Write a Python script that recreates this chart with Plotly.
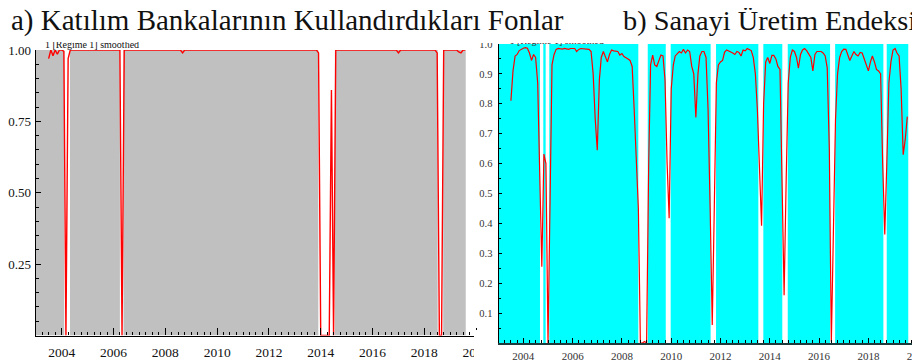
import plotly.graph_objects as go
import pandas as pd

# The page body has an 8px margin, so the figure is 8px smaller than the 920x361 window
OFF = 8
W, H = 920 - OFF, 361 - OFF


def px(wx):
    """window x pixel -> paper fraction"""
    return (wx - OFF) / W


def py(wy):
    """window y pixel (from top) -> paper fraction"""
    return 1 - (wy - OFF) / H


# monthly observations, Jul 2003 .. Aug 2019
months = pd.date_range("2003-07-01", periods=194, freq="MS")

# a) Katılım Bankalarının Kullandırdıkları Fonlar : P[Regime 1] smoothed
fonlar_prob = (
    [0.97, 1.0, 0.98, 1.0, 0.985, 1.0]                                          # 2003 Jul-Dec
    + [1.0, 0.995, 0.0, 0.97, 1.0, 1.0, 1.0, 1.0, 1.0, 1.0, 1.0, 1.0]           # 2004
    + [1.0, 1.0, 1.0, 1.0, 1.0, 1.0, 1.0, 1.0, 1.0, 1.0, 1.0, 1.0]              # 2005
    + [1.0, 1.0, 1.0, 1.0, 0.0, 1.0, 1.0, 1.0, 1.0, 1.0, 1.0, 1.0]              # 2006
    + [1.0, 1.0, 1.0, 1.0, 1.0, 1.0, 1.0, 1.0, 1.0, 1.0, 1.0, 1.0]              # 2007
    + [1.0, 1.0, 1.0, 1.0, 1.0, 1.0, 1.0, 1.0, 0.99, 1.0, 1.0, 1.0]             # 2008
    + [1.0, 1.0, 1.0, 1.0, 1.0, 1.0, 1.0, 1.0, 1.0, 1.0, 1.0, 1.0]              # 2009
    + [1.0, 1.0, 1.0, 1.0, 1.0, 1.0, 1.0, 1.0, 1.0, 1.0, 1.0, 1.0]              # 2010
    + [1.0, 1.0, 1.0, 1.0, 1.0, 1.0, 1.0, 1.0, 1.0, 1.0, 1.0, 1.0]              # 2011
    + [1.0, 1.0, 1.0, 1.0, 1.0, 1.0, 1.0, 1.0, 1.0, 1.0, 1.0, 1.0]              # 2012
    + [1.0, 1.0, 1.0, 1.0, 1.0, 1.0, 1.0, 1.0, 1.0, 1.0, 1.0, 0.99]             # 2013
    + [0.0, 0.0, 0.0, 0.0, 0.0, 0.86, 0.0, 1.0, 1.0, 1.0, 1.0, 1.0]             # 2014
    + [1.0, 1.0, 1.0, 1.0, 1.0, 1.0, 1.0, 1.0, 1.0, 1.0, 1.0, 1.0]              # 2015
    + [1.0, 1.0, 1.0, 1.0, 1.0, 1.0, 1.0, 1.0, 1.0, 1.0, 1.0, 1.0]              # 2016
    + [0.99, 1.0, 1.0, 1.0, 1.0, 1.0, 1.0, 1.0, 1.0, 1.0, 1.0, 1.0]             # 2017
    + [1.0, 1.0, 1.0, 1.0, 1.0, 1.0, 0.99, 0.0, 0.0, 1.0, 1.0, 1.0]             # 2018
    + [1.0, 1.0, 1.0, 1.0, 0.993, 0.99, 1.0, 1.0]                               # 2019 Jan-Aug
)

# b) Sanayi Üretim Endeksi : P[Regime 1] smoothed
sanayi_prob = (
    [0.81, 0.91, 0.96, 0.965, 0.978, 0.983]                                                  # 2003 Jul-Dec
    + [0.986, 0.988, 0.986, 0.97, 0.945, 0.965, 0.955, 0.87, 0.55, 0.255, 0.632, 0.60]       # 2004
    + [0.0, 0.5, 0.93, 0.965, 0.982, 0.985, 0.984, 0.983, 0.985, 0.984, 0.982, 0.985]        # 2005
    + [0.986, 0.985, 0.975, 0.982, 0.985, 0.984, 0.983, 0.982, 0.982, 0.975, 0.9, 0.75]      # 2006
    + [0.645, 0.88, 0.955, 0.975, 0.96, 0.94, 0.965, 0.98, 0.977, 0.975, 0.975, 0.963]       # 2007
    + [0.968, 0.958, 0.955, 0.95, 0.945, 0.925, 0.78, 0.63, 0.45, 0.0, 0.0, 0.005]           # 2008
    + [0.0, 0.6, 0.93, 0.963, 0.93, 0.925, 0.945, 0.963, 0.96, 0.88, 0.6, 0.417]             # 2009
    + [0.85, 0.93, 0.96, 0.968, 0.975, 0.97, 0.982, 0.97, 0.98, 0.975, 0.925, 0.9]           # 2010
    + [0.754, 0.9, 0.96, 0.975, 0.975, 0.955, 0.78, 0.45, 0.06, 0.45, 0.87, 0.93]            # 2011
    + [0.94, 0.945, 0.972, 0.98, 0.977, 0.972, 0.97, 0.965, 0.975, 0.972, 0.96, 0.98]        # 2012
    + [0.977, 0.985, 0.982, 0.978, 0.955, 0.9, 0.78, 0.55, 0.392, 0.8, 0.94, 0.955]          # 2013
    + [0.935, 0.962, 0.962, 0.95, 0.925, 0.915, 0.5, 0.16, 0.55, 0.87, 0.955, 0.98]          # 2014
    + [0.975, 0.955, 0.919, 0.965, 0.98, 0.985, 0.978, 0.965, 0.955, 0.91, 0.965, 0.975]     # 2015
    + [0.975, 0.975, 0.97, 0.96, 0.92, 0.65, 0.004, 0.35, 0.75, 0.9, 0.955, 0.975]           # 2016
    + [0.983, 0.982, 0.965, 0.945, 0.96, 0.975, 0.965, 0.96, 0.972, 0.97, 0.95, 0.93]        # 2017
    + [0.91, 0.94, 0.96, 0.94, 0.915, 0.91, 0.9, 0.6, 0.363, 0.6, 0.87, 0.94]                # 2018
    + [0.98, 0.985, 0.97, 0.96, 0.85, 0.63, 0.68, 0.757]                                     # 2019 Jan-Aug
)

# periods classified as regime 1 (shaded)
fonlar_regime1 = [
    ("2003-01-01", "2004-02-06"), ("2004-04-27", "2006-04-01"), ("2006-05-22", "2013-11-28"),
    ("2014-07-19", "2018-07-08"), ("2018-09-24", "2019-08-08"),
]
sanayi_regime1 = [
    ("2003-01-01", "2004-09-04"), ("2004-10-23", "2004-11-27"), ("2005-01-20", "2008-08-31"),
    ("2009-01-18", "2009-10-12"), ("2009-12-24", "2011-08-08"), ("2011-10-27", "2013-07-15"),
    ("2013-09-27", "2014-07-05"), ("2014-09-24", "2016-06-12"), ("2016-08-26", "2018-08-11"),
    ("2018-09-30", "2019-08-15"),
]

title_a = "a) Katılım Bankalarının Kullandırdıkları Fonlar"
title_b = "b) Sanayi Üretim Endeksi"
legend_label = "1 [Regime 1] smoothed"

SERIF = "Liberation Serif, Times New Roman, serif"

fig = go.Figure()

for x0, x1 in fonlar_regime1:
    fig.add_shape(type="rect", xref="x", yref="y", x0=x0, x1=x1, y0=0, y1=1,
                  fillcolor="#c0c0c0", line_width=0, layer="below")
for x0, x1 in sanayi_regime1:
    fig.add_shape(type="rect", xref="x2", yref="y2", x0=x0, x1=x1, y0=0, y1=1,
                  fillcolor="#00ffff", line_width=0, layer="below")

fig.add_trace(go.Scatter(x=months, y=fonlar_prob, mode="lines", xaxis="x", yaxis="y",
                         line=dict(color="#ff0000", width=1.4), cliponaxis=False,
                         showlegend=False, hoverinfo="skip"))
fig.add_trace(go.Scatter(x=months, y=sanayi_prob, mode="lines", xaxis="x2", yaxis="y2",
                         line=dict(color="#ff0000", width=1.2), cliponaxis=False,
                         showlegend=False, hoverinfo="skip"))

# legend labels, sitting on top of the frame (their tops hidden under the title band)
fig.add_trace(go.Scatter(x=["2003-05-10"], y=[0.9999], mode="text", text=[legend_label],
                         textposition="top right", xaxis="x", yaxis="y",
                         textfont=dict(family=SERIF, size=10, color="#111"),
                         cliponaxis=False, showlegend=False, hoverinfo="skip"))
fig.add_trace(go.Scatter(x=["2003-06-10"], y=[0.993], mode="text", text=[legend_label],
                         textposition="top right", xaxis="x2", yaxis="y2",
                         textfont=dict(family=SERIF, size=10, color="#333"),
                         cliponaxis=False, showlegend=False, hoverinfo="skip"))

common_x = dict(type="date", showgrid=False, zeroline=False, showline=True, linecolor="black",
                ticks="inside", tickcolor="black", dtick="M24", tick0="2004-01-01",
                tickformat="%Y", ticklabeloverflow="allow", automargin=False)
common_y = dict(range=[0, 1], showgrid=False, zeroline=False, showline=True, linecolor="black",
                ticks="inside", tickcolor="black", automargin=False)

fig.update_layout(
    width=W, height=H,
    margin=dict(l=0, r=0, t=0, b=0, pad=0, autoexpand=False),
    paper_bgcolor="white", plot_bgcolor="white",
    xaxis=dict(common_x, domain=[px(35.8), px(481)], range=["2003-01-01", "2020-03-10"],
               anchor="y", linewidth=1.3, ticklen=7,
               minor=dict(dtick="M3", ticks="inside", ticklen=3.5, tickcolor="black"),
               tickfont=dict(family=SERIF, size=13.5, color="#111"), ticklabelstandoff=4),
    yaxis=dict(common_y, domain=[py(335.5), py(50)], anchor="x", linewidth=1.3,
               tickvals=[0.25, 0.5, 0.75, 1.0], ticktext=["0.25", "0.50", "0.75", "1.00"],
               ticklen=5, minor=dict(dtick=0.05, ticks="inside", ticklen=3, tickcolor="black"),
               tickfont=dict(family=SERIF, size=13, color="#111"), ticklabelstandoff=1),
    xaxis2=dict(common_x, domain=[px(498.7), 1.0], range=["2003-01-01", "2020-02-05"],
                anchor="y2", linewidth=2, linecolor="#1e3c3c", ticklen=5,
                minor=dict(dtick="M3", ticks="inside", ticklen=3, tickcolor="black"),
                tickfont=dict(family=SERIF, size=11, color="#333"), ticklabelstandoff=2),
    yaxis2=dict(common_y, domain=[py(343), py(44)], anchor="x2", linewidth=1.3,
                dtick=0.1, tick0=0, tickformat=".1f", ticklen=3,
                minor=dict(dtick=0.05, ticks="inside", ticklen=2, tickcolor="black"),
                tickfont=dict(family=SERIF, size=10.5, color="#333"), ticklabelstandoff=3),
)

# white band of the title area, and the cut edge of the left panel
fig.add_shape(type="rect", xref="paper", yref="paper", x0=0, x1=px(480), y0=py(42), y1=1,
              fillcolor="white", line_width=0, layer="above")
fig.add_shape(type="rect", xref="paper", yref="paper", x0=px(480), x1=1, y0=py(43), y1=1,
              fillcolor="white", line_width=0, layer="above")
fig.add_shape(type="rect", xref="paper", yref="paper", x0=px(474), x1=px(496), y0=0, y1=py(330),
              fillcolor="white", line_width=0, layer="above")

fig.add_annotation(text=title_a, xref="paper", yref="paper", x=px(9), y=py(21),
                   xanchor="left", yanchor="middle", showarrow=False,
                   font=dict(family=SERIF, size=29, color="#111"))
fig.add_annotation(text=title_b, xref="paper", yref="paper", x=px(621), y=py(21),
                   xanchor="left", yanchor="middle", showarrow=False,
                   font=dict(family=SERIF, size=28.3, color="#111"))

fig.write_html("out.html")
